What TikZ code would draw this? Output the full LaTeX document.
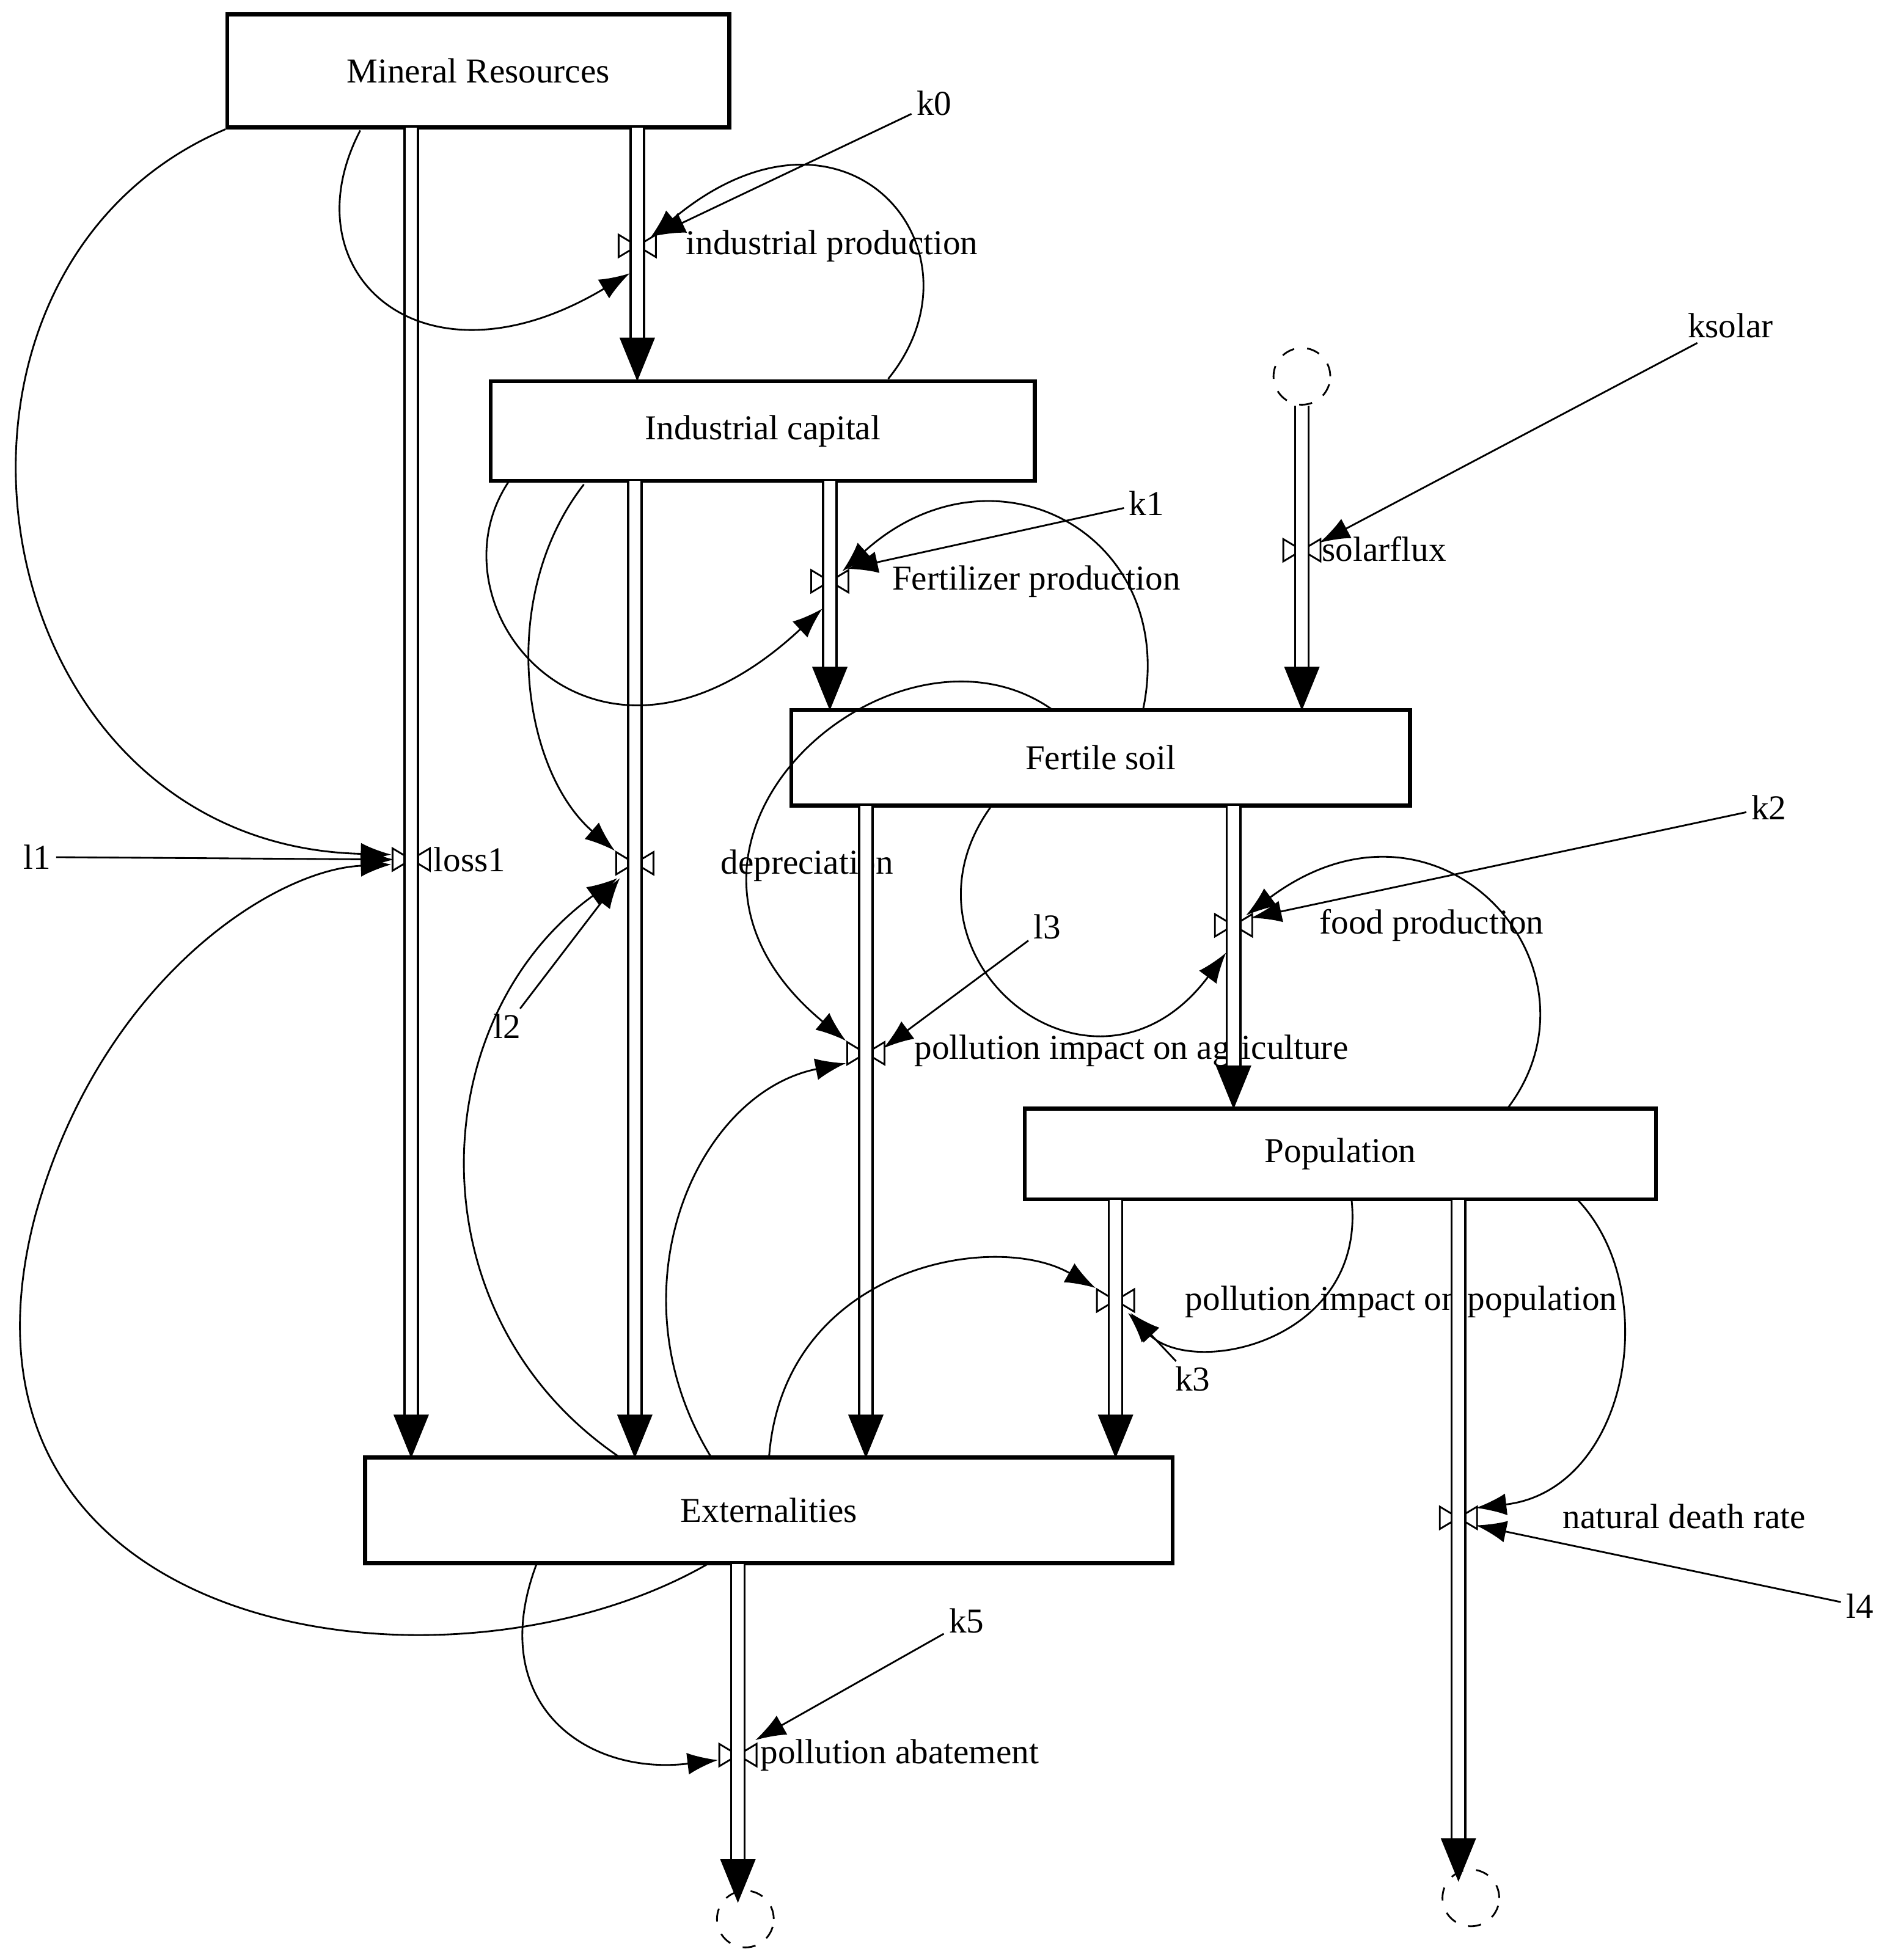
\documentclass[tikz,border=0pt]{standalone}
\usepackage{fontspec}
\setmainfont{Liberation Serif}
\usetikzlibrary{arrows.meta,calc}
\tikzset{
  x=0.1mm, y=-0.1mm,
  stock/.style={draw, line width=0.9pt, minimum height=0pt, inner sep=0pt},
  flow/.style={double, double distance=2.6pt, line width=0.5pt, -{Triangle[length=10pt,width=8pt]}},
  link/.style={line width=0.4pt, -{Latex[length=7pt,width=5pt]}},
  lbl/.style={font=\fontsize{8}{9.5}\selectfont, inner sep=1pt},
  cloud/.style={draw, dashed, circle, minimum size=13pt, inner sep=0pt},
}
\newcommand\valve[1]{\draw[line width=0.4pt] ($(#1)+(-15,-9)$) -- ($(#1)+(15,9)$) -- ($(#1)+(15,-9)$) -- ($(#1)+(-15,9)$) -- cycle;}
\begin{document}
\begin{tikzpicture}[font=\fontsize{8}{9.5}\selectfont]
\useasboundingbox (0,0) rectangle (1530,1578);
% stocks
\node[stock, minimum width=40.4mm, minimum height=9.1mm] (mr) at (385,57) {Mineral Resources};
\node[stock, minimum width=43.8mm, minimum height=8mm] (ic) at (614,347) {Industrial capital};
\node[stock, minimum width=49.8mm, minimum height=7.7mm] (fs) at (886,610) {Fertile soil};
\node[stock, minimum width=50.8mm, minimum height=7.3mm] (pop) at (1079,929) {Population};
\node[stock, minimum width=65mm, minimum height=8.5mm] (ext) at (619,1216) {Externalities};
% clouds
\node[cloud] (c1) at (1048,303) {};
\node[cloud] (c2) at (1184,1528) {};
\node[cloud] (c3) at (600,1545) {};
% valves
\coordinate (vloss) at (331,692);
\coordinate (vind) at (513,198);
\coordinate (vdep) at (511,695);
\coordinate (vfert) at (668,468);
\coordinate (vsol) at (1048,443);
\coordinate (vpia) at (697,848);
\coordinate (vfood) at (993,745);
\coordinate (vpip) at (898,1047);
\coordinate (vnd) at (1174,1222);
\coordinate (vab) at (594,1413);
\foreach \v in {vloss,vind,vdep,vfert,vsol,vpia,vfood,vpip,vnd,vab} {\valve{\v}}
\node[lbl, anchor=west] at (345,692) {loss1};
\node[lbl, anchor=west] at (548,198) {industrial production};
\node[lbl, anchor=west] at (576,697) {depreciation};
\node[lbl, anchor=west] at (714,468) {Fertilizer production};
\node[lbl, anchor=west] at (1060,442) {solarflux};
\node[lbl, anchor=west] at (732,846) {pollution impact on agriculture};
\node[lbl, anchor=west] at (1058,745) {food production};
\node[lbl, anchor=west] at (950,1048) {pollution impact on population};
\node[lbl, anchor=west] at (1254,1221) {natural death rate};
\node[lbl, anchor=west] at (608,1413) {pollution abatement};
% flows
\draw[flow] (331,103) -- (331,1174);
\draw[flow] (513,103) -- (513,307);
\draw[flow] (511,387) -- (511,1174);
\draw[flow] (668,387) -- (668,572);
\draw[flow] (c1) -- (1048,572);
\draw[flow] (697,649) -- (697,1174);
\draw[flow] (993,649) -- (993,893);
\draw[flow] (898,966) -- (898,1174);
\draw[flow] (1174,966) -- (1174,1515);
\draw[flow] (594,1259) -- (594,1532);
% parameters
\node[lbl] (k0) at (752,83) {k0};
\node[lbl] (ksolar) at (1393,262) {ksolar};
\node[lbl] (k1) at (923,405) {k1};
\node[lbl] (k2) at (1424,650) {k2};
\node[lbl] (l1) at (30,690) {l1};
\node[lbl] (l2) at (408,826) {l2};
\node[lbl] (l3) at (843,746) {l3};
\node[lbl] (k3) at (960,1110) {k3};
\node[lbl] (k5) at (778,1305) {k5};
\node[lbl] (l4) at (1497,1293) {l4};
\draw[link] (k0) -- ($(vind)+(14,-8)$);
\draw[link] (ksolar) -- ($(vsol)+(14,-6)$);
\draw[link] (k1) -- ($(vfert)+(14,-10)$);
\draw[link] (k2) -- ($(vfood)+(14,-6)$);
\draw[link] (l1) -- ($(vloss)+(-14,0)$);
\draw[link] (l2) -- ($(vdep)+(-12,12)$);
\draw[link] (l3) -- ($(vpia)+(14,-4)$);
\draw[link] (k3) -- ($(vpip)+(12,10)$);
\draw[link] (k5) -- ($(vab)+(14,-12)$);
\draw[link] (l4) -- ($(vnd)+(14,6)$);
% information links
\draw[link] (mr.south west) .. controls (-90,220) and (-20,680) .. ($(vloss)+(-16,-4)$);
\draw[link] (290,105) .. controls (230,220) and (340,320) .. ($(vind)+(-6,22)$);
\draw[link] (715,305) .. controls (800,200) and (680,60) .. ($(vind)+(10,-6)$);
\draw[link] (410,387) .. controls (340,490) and (480,660) .. ($(vfert)+(-6,22)$);
\draw[link] (920,572) .. controls (950,430) and (800,350) .. ($(vfert)+(10,-8)$);
\draw[link] (470,390) .. controls (400,480) and (420,620) .. ($(vdep)+(-16,-10)$);
\draw[link] (848,572) .. controls (720,480) and (490,680) .. ($(vpia)+(-16,-10)$);
\draw[link] (798,649) .. controls (710,770) and (880,910) .. ($(vfood)+(-6,22)$);
\draw[link] (1213,893) .. controls (1300,780) and (1160,620) .. ($(vfood)+(10,-8)$);
\draw[link] (570,1259) .. controls (360,1380) and (-60,1320) .. (28,980) .. controls (80,790) and (220,700) .. ($(vloss)+(-16,4)$);
\draw[link] (500,1174) .. controls (330,1060) and (340,820) .. ($(vdep)+(-14,12)$);
\draw[link] (573,1174) .. controls (490,1040) and (560,880) .. ($(vpia)+(-16,8)$);
\draw[link] (619,1174) .. controls (630,1020) and (800,990) .. ($(vpip)+(-16,-10)$);
\draw[link] (1088,966) .. controls (1100,1080) and (960,1110) .. ($(vpip)+(10,10)$);
\draw[link] (1270,966) .. controls (1340,1040) and (1310,1200) .. ($(vnd)+(14,-8)$);
\draw[link] (432,1259) .. controls (390,1370) and (470,1430) .. ($(vab)+(-16,4)$);
\end{tikzpicture}
\end{document}
